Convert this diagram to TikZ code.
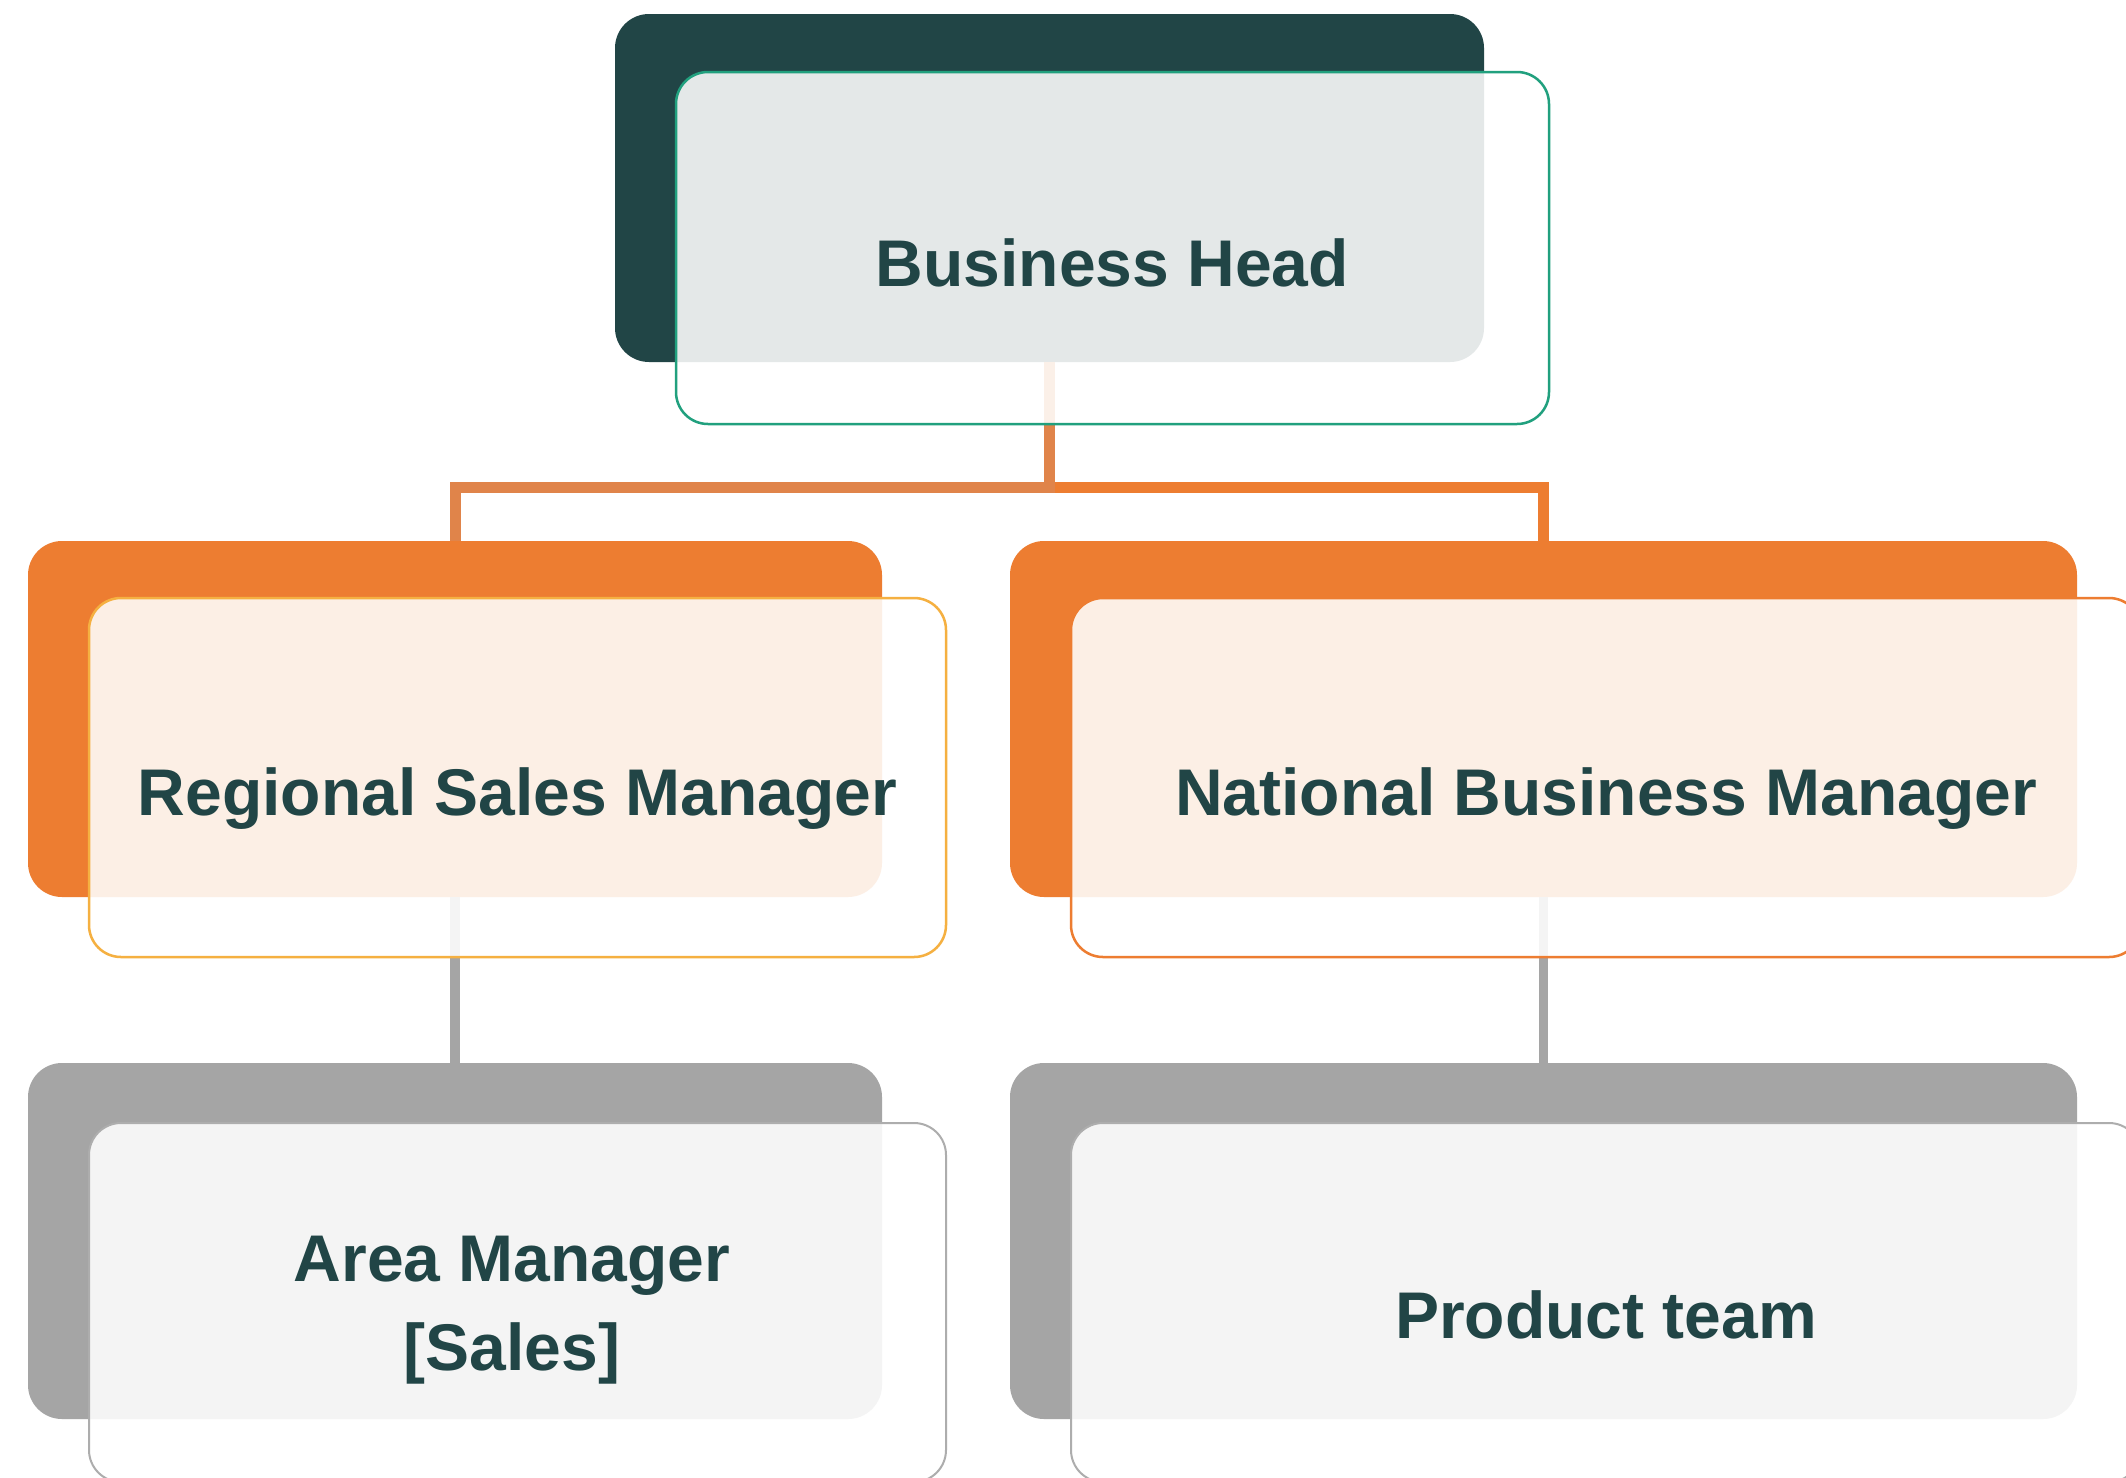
\documentclass[tikz,border=0pt]{standalone}
\usepackage{fontspec}
\setmainfont{Liberation Sans}
\definecolor{darkteal}{HTML}{214546}
\definecolor{tealline}{HTML}{21A07E}
\definecolor{orangeA}{HTML}{ED7D31}
\definecolor{orangeL}{HTML}{E0844A}
\definecolor{yellowline}{HTML}{F5B041}
\definecolor{grayA}{HTML}{A5A5A5}
\definecolor{grayline}{HTML}{ADADAD}
\begin{document}
\begin{tikzpicture}[x=1pt,y=-1pt,
  backbox/.style={rectangle,rounded corners=34pt,inner sep=0pt,outer sep=0pt},
  frontbox/.style={rectangle,rounded corners=32pt,inner sep=0pt,outer sep=0pt,
    fill=white,fill opacity=0.88,line width=2.5pt},
  smallw/.style={minimum width=854pt,minimum height=356pt},
  bigw/.style={minimum width=1067pt,minimum height=356pt},
  smallf/.style={minimum width=857pt,minimum height=359pt},
  bigf/.style={minimum width=1070pt,minimum height=359pt},
  lbl/.style={inner sep=0pt,text=darkteal,font=\bfseries\fontsize{66}{89}\selectfont},
  orangeconn/.style={line width=11pt,line join=miter},
  grayconn/.style={line width=9.5pt,draw=grayA}
]
\clip (0,0) rectangle (2126,1478);
\fill[white] (0,0) rectangle (2126,1478);

% back boxes
\node[backbox,fill=darkteal,minimum width=869pt,minimum height=348pt] (bhB) at (1049.5,188) {};
\node[backbox,fill=orangeA,smallw] (rsmB) at (455,719) {};
\node[backbox,fill=orangeA,bigw] (nbmB) at (1543.5,719) {};
\node[backbox,fill=grayA,smallw] (amB) at (455,1241) {};
\node[backbox,fill=grayA,bigw] (ptB) at (1543.5,1241) {};

% connectors
\coordinate (bus) at (0,487);
\draw[orangeconn,draw=orangeA] (bhB.south) -- (bhB.south |- bus) -| (nbmB.north);
\draw[orangeconn,draw=orangeL] (bhB.south) -- (bhB.south |- bus) -| (rsmB.north);
\draw[grayconn] (rsmB.south) -- (amB.north);
\draw[grayconn] (nbmB.south) -- (ptB.north);

% front boxes
\node[frontbox,draw=tealline,minimum width=873pt,minimum height=352pt] (bhF) at (1112.5,248) {};
\node[frontbox,draw=yellowline,smallf] (rsmF) at (517.5,777.5) {};
\node[frontbox,draw=orangeA,bigf] (nbmF) at (1606,777.5) {};
\node[frontbox,draw=grayline,smallf,line width=2pt] (amF) at (517.5,1302.5) {};
\node[frontbox,draw=grayline,bigf,line width=2pt] (ptF) at (1606,1302.5) {};

% labels
\node[lbl,anchor=base] (bhT) at ([yshift=-38pt]bhF.center) {Business Head};
\node[lbl,anchor=base] (rsmT) at ([yshift=-38pt]rsmF.center) {Regional Sales Manager};
\node[lbl,anchor=base] (nbmT) at ([yshift=-38pt]nbmF.center) {National Business Manager};
\node[lbl,align=center,anchor=center] (amT) at (512,1310) {Area Manager\\{[Sales]}};
\node[lbl,anchor=base] (ptT) at ([yshift=-36pt]ptF.center) {Product team};
\end{tikzpicture}
\end{document}
